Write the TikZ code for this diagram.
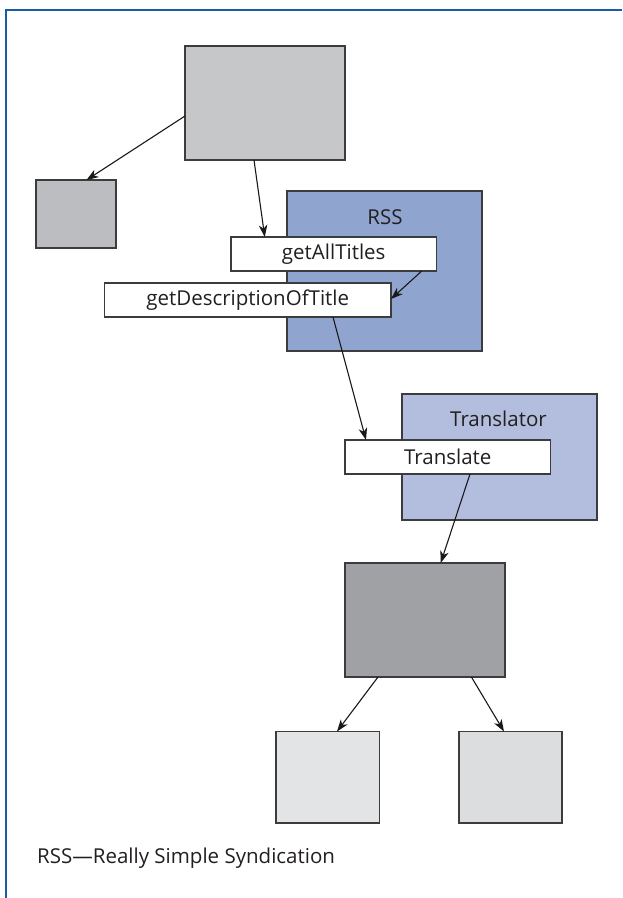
\documentclass[tikz,border=0pt]{standalone}
\usepackage{fontspec}
\setmainfont{Open Sans}
\usetikzlibrary{arrows.meta,calc}
\definecolor{frameblue}{HTML}{1A5CA6}
\definecolor{ink}{HTML}{231F20}
\definecolor{edge}{HTML}{3C3C3E}
\definecolor{gTop}{HTML}{C6C7C9}
\definecolor{gSmall}{HTML}{BCBDC0}
\definecolor{gDark}{HTML}{A0A1A4}
\definecolor{gLeft}{HTML}{E3E4E5}
\definecolor{gRight}{HTML}{DCDDDF}
\definecolor{rssblue}{HTML}{8FA4CE}
\definecolor{trblue}{HTML}{B3BEDF}
\begin{document}
\begin{tikzpicture}[x=1pt,y=-1pt,
  box/.style={draw=edge,line width=1.3pt,rectangle,inner sep=0pt,outer sep=0pt,
    minimum width=#1},
  box/.default=100pt,
  method/.style={draw=edge,line width=1.1pt,fill=white,rectangle,inner sep=0pt,
    outer sep=0pt,minimum height=34pt,text=ink,font=\fontsize{20.5}{24}\selectfont},
  lbl/.style={text=ink,font=\fontsize{20.5}{24}\selectfont,inner sep=0pt},
  flow/.style={draw=black!90,line width=1.1pt,
    -{Stealth[length=12pt,width=8.5pt,inset=3.5pt]}}]
\useasboundingbox (0,0) rectangle (622,898);
\fill[white] (0,0) rectangle (622,898);

% outer frame: top and left rules only
\draw[frameblue,line width=2.6pt] (6,898) -- (6,10) -- (622,10);

% plain grey components
\node[box=160pt,minimum height=114pt,fill=gTop]   (top)   at (265,103) {};
\node[box=80pt, minimum height=68pt, fill=gSmall] (small) at (76,214) {};

% RSS service with its two operations
\node[box=195pt,minimum height=160pt,fill=rssblue] (rss) at (384.5,271) {};
\node[lbl] at (385,217) {RSS};
\node[method,minimum width=205.5pt] (gat) at (333.75,254) {getAllTitles};
\node[method,minimum width=286.5pt] (gdt) at (247.75,300) {getDescriptionOfTitle};

% Translator service
\node[box=195pt,minimum height=126pt,fill=trblue] (trs) at (499.5,457) {};
\node[lbl] at (498.5,419) {Translator};
\node[method,minimum width=205.5pt] (tr) at (447.75,457) {Translate};

% consumers of the translated result
\node[box=160pt,  minimum height=114pt,fill=gDark]  (dark)  at (425,620) {};
\node[box=103.5pt,minimum height=91.5pt,fill=gLeft]  (bl)   at (327.75,777.25) {};
\node[box=103pt,  minimum height=91.5pt,fill=gRight] (br)   at (510.5,777.25) {};

% calls between components
\draw[flow] ([yshift=-13pt]top.west) -- ([xshift=10.5pt]small.north);
\draw[flow] ([xshift=-11pt]top.south) -- ([xshift=-69pt]gat.north);
\draw[flow] ([xshift=88pt]gat.south) -- ([yshift=1pt]gdt.east);
\draw[flow] ([xshift=85.25pt]gdt.south) -- ([xshift=-81.75pt]tr.north);
\draw[flow] ([xshift=22.25pt]tr.south) -- ([xshift=15.7pt]dark.north);
\draw[flow] ([xshift=-47pt]dark.south) -- ([xshift=9.25pt]bl.north);
\draw[flow] ([xshift=46.4pt]dark.south) -- ([xshift=-6.5pt]br.north);

% legend
\node[lbl,anchor=west] (legend) at (37,858) {RSS—Really Simple Syndication};
\end{tikzpicture}
\end{document}
